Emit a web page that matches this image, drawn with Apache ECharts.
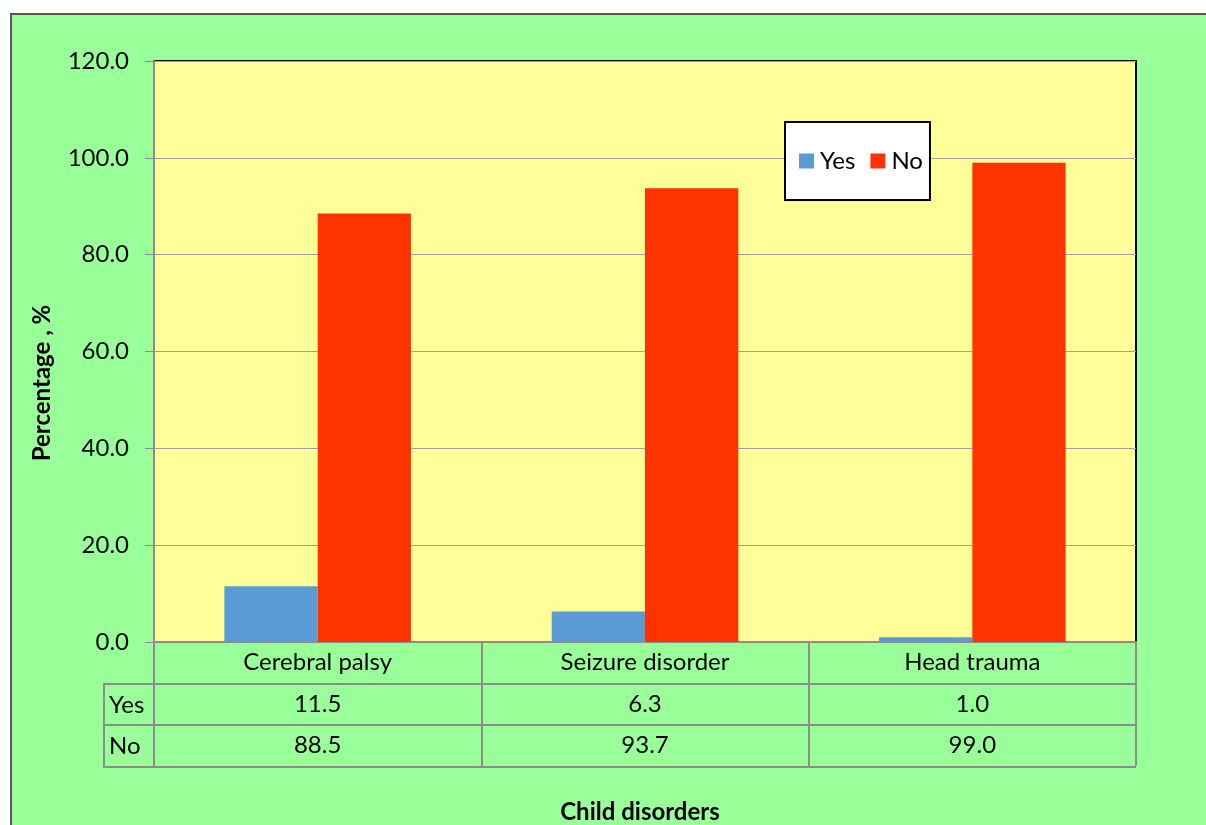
<!DOCTYPE html>
<html>
<head>
<meta charset="utf-8">
<script src="https://cdn.jsdelivr.net/npm/echarts@6/dist/echarts.min.js"></script>
<style>
  html, body { margin: 0; padding: 0; background: #fff; }
  #chart { width: 1206px; height: 825px; }
</style>
</head>
<body>
<div id="chart"></div>
<script>
var categories = ['Cerebral palsy', 'Seizure disorder', 'Head trauma']
var yesValues = [11.5, 6.3, 1.0]
var noValues = [88.5, 93.7, 99.0]
var seriesNames = ['Yes', 'No']
var yTitle = 'Percentage , %'
var xTitle = 'Child disorders'

var font = 'Lato'
var gray = '#8c8c8c'

function tableAxis (data, offset) {
  return {
    type: 'category',
    data: data,
    position: 'bottom',
    offset: offset,
    axisLine: { show: true, lineStyle: { color: gray, width: 2 } },
    axisTick: { show: true, length: 41, lineStyle: { color: gray, width: 2 } },
    axisLabel: { margin: 8, fontFamily: font, fontSize: 24, color: '#000' }
  }
}

var myChart = echarts.init(document.getElementById('chart'))

var option = {
  backgroundColor: '#fff',
  animation: false,
  title: {
    text: xTitle,
    left: 635,
    top: 795,
    textAlign: 'center',
    textStyle: { fontFamily: font, fontSize: 24, fontWeight: 'bold', color: '#000' }
  },
  legend: {
    data: seriesNames,
    left: 785,
    top: 122,
    backgroundColor: '#fff',
    borderColor: '#000',
    borderWidth: 2,
    padding: [27, 7, 27, 14],
    itemGap: 15,
    itemWidth: 15,
    itemHeight: 15,
    icon: 'rect',
    textStyle: { fontFamily: font, fontSize: 24, color: '#000', padding: [0, 0, 0, 1] }
  },
  grid: {
    left: 154,
    top: 61,
    right: 70,
    bottom: 183,
    show: true,
    backgroundColor: '#FFFF99',
    borderColor: '#000',
    borderWidth: 2
  },
  xAxis: [
    tableAxis(categories, 0),
    tableAxis(yesValues.map(function (v) { return v.toFixed(1) }), 42),
    tableAxis(noValues.map(function (v) { return v.toFixed(1) }), 83)
  ],
  yAxis: {
    type: 'value',
    min: 0,
    max: 120,
    interval: 20,
    axisLine: { show: true, lineStyle: { color: gray, width: 2 } },
    axisTick: { show: true, length: 9, lineStyle: { color: gray } },
    axisLabel: {
      fontFamily: font, fontSize: 24, color: '#000', margin: 25,
      formatter: function (v) { return v.toFixed(1) }
    },
    splitLine: { show: true, lineStyle: { color: '#a0a0a0', width: 1 } }
  },
  series: [
    {
      name: 'Yes',
      type: 'bar',
      xAxisIndex: 0,
      data: yesValues,
      barGap: '0%',
      barCategoryGap: '43%',
      itemStyle: { color: '#5B9BD5' }
    },
    {
      name: 'No',
      type: 'bar',
      xAxisIndex: 0,
      data: noValues,
      itemStyle: { color: '#FF3300' }
    }
  ],
  graphic: [
    {
      type: 'rect',
      z: -100,
      silent: true,
      shape: { x: 11, y: 14, width: 1220, height: 830 },
      style: { fill: '#99FF99', stroke: '#555', lineWidth: 2 }
    },
    // row header column and bottom edge of the data table
    {
      type: 'polyline',
      silent: true,
      shape: { points: [[154, 684], [104, 684], [104, 767], [1136, 767]] },
      style: { stroke: gray, lineWidth: 2, fill: null }
    },
    {
      type: 'line',
      silent: true,
      shape: { x1: 104, y1: 725, x2: 154, y2: 725 },
      style: { stroke: gray, lineWidth: 2 }
    },
    {
      type: 'text',
      silent: true,
      x: 109,
      y: 705,
      style: { text: seriesNames[0], font: '24px ' + font, fill: '#000', textVerticalAlign: 'middle' }
    },
    {
      type: 'text',
      silent: true,
      x: 109,
      y: 746,
      style: { text: seriesNames[1], font: '24px ' + font, fill: '#000', textVerticalAlign: 'middle' }
    },
    {
      type: 'text',
      silent: true,
      x: 42,
      y: 383,
      rotation: Math.PI / 2,
      style: {
        text: yTitle, font: 'bold 24px ' + font, fill: '#000',
        textAlign: 'center', textVerticalAlign: 'middle'
      }
    }
  ]
}

myChart.setOption(option)
</script>
</body>
</html>
